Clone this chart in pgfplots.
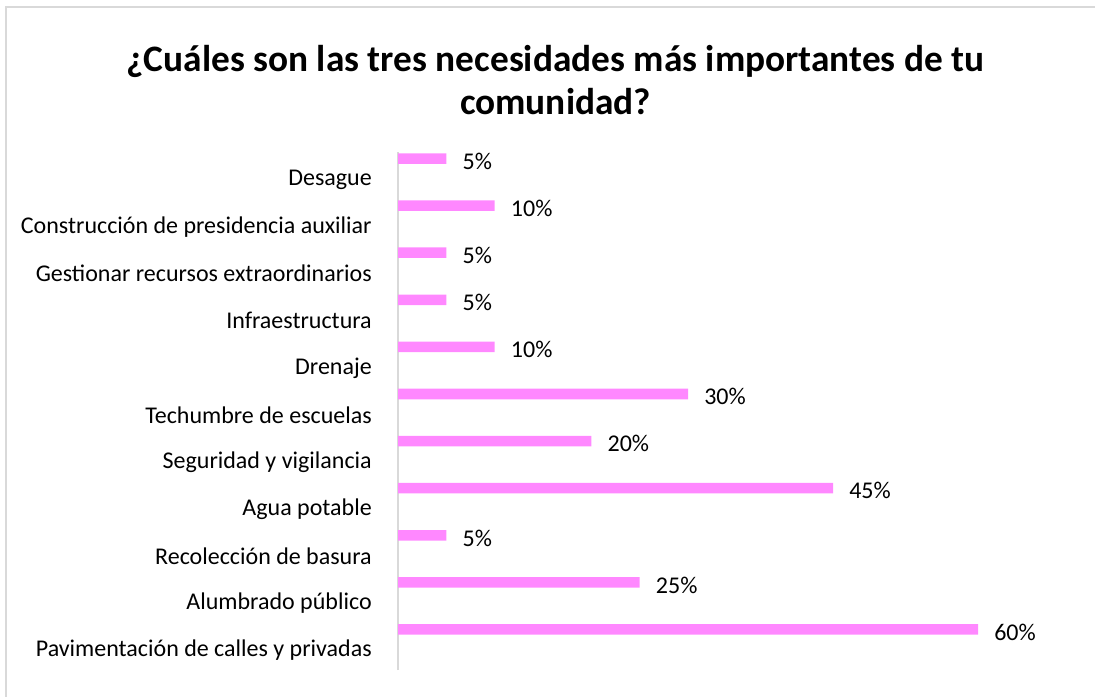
\documentclass[border=0pt]{standalone}
\usepackage{pgfplots}
\pgfplotsset{compat=1.18}
\usepackage{pgfplotstable}
\usepackage{fontspec}
\setmainfont{Carlito}
\definecolor{barpink}{RGB}{255,136,255}
\definecolor{framegray}{RGB}{217,217,217}

\pgfplotstableread{
pos val
0 60
1 25
2 5
3 45
4 20
5 30
6 10
7 5
8 5
9 10
10 5
}\datatable

\begin{document}
\begin{tikzpicture}
\useasboundingbox (0,0) rectangle (821.25pt,522pt);
\draw[framegray, line width=1.5pt] (4.5pt,-20pt) rectangle (840pt,516.75pt);
\node[font=\fontsize{28}{32}\selectfont\bfseries] at (416.6pt,476pt) {¿Cuáles son las tres necesidades más importantes de tu};
\node[font=\fontsize{28}{32}\selectfont\bfseries] at (416.6pt,446pt) {comunidad?};
\begin{axis}[
  at={(298.5pt,19.5pt)}, anchor=south west,
  width=496.5pt, height=388.5pt, scale only axis,
  xmin=0, xmax=68.48, ymin=-0.5, ymax=10.5,
  hide x axis,
  axis y line*=left,
  y axis line style={framegray, line width=1.5pt, -},
  xbar, bar width=7.9pt, bar shift=12.75pt,
  ytick={0,...,10},
  yticklabels={Pavimentación de calles y privadas, Alumbrado público, Recolección de basura, Agua potable, Seguridad y vigilancia, Techumbre de escuelas, Drenaje, Infraestructura, Gestionar recursos extraordinarios, Construcción de presidencia auxiliar, Desague},
  yticklabel style={font=\fontsize{18}{21}\selectfont, inner sep=0pt, xshift=-19.5pt, yshift=-3pt},
  major tick length=0pt,
  point meta=x,
  nodes near coords={\pgfmathprintnumber{\pgfplotspointmeta}\%},
  nodes near coords style={anchor=west, inner sep=0pt, xshift=12pt, yshift=-2pt, font=\fontsize{18}{21}\selectfont, /pgf/number format/assume math mode=true},
]
\addplot[fill=barpink, draw=none] table[x=val, y=pos] {\datatable};
\end{axis}
\end{tikzpicture}
\end{document}
